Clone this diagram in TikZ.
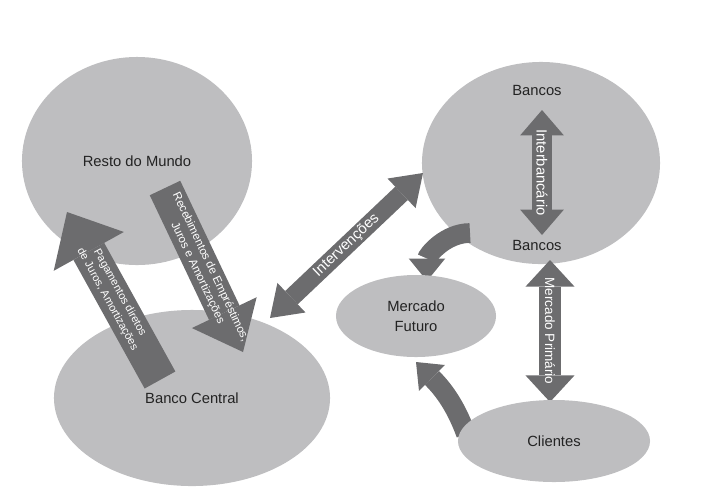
\documentclass[tikz,border=0pt]{standalone}
\usepackage{fontspec}
\setmainfont{Liberation Sans}
\usetikzlibrary{shapes.geometric,arrows.meta}
\definecolor{blobgray}{RGB}{190,190,192}
\definecolor{flowgray}{RGB}{108,108,110}
\definecolor{inkgray}{RGB}{35,35,35}
\tikzset{
    blob/.style={ellipse, fill=blobgray, inner sep=0pt},
    tag/.style={text=inkgray, font=\fontsize{10.5}{14}\selectfont, align=center},
    flow/.style={draw=flowgray, line width=#1},
    flowtext/.style={text=white, font=\fontsize{#1}{10}\selectfont, align=center, inner sep=0pt},
    tip/.style 2 args={-{Triangle[width=#1,length=#2,line width=0pt]}},
    tips/.style 2 args={{Triangle[width=#1,length=#2,line width=0pt]}-{Triangle[width=#1,length=#2,line width=0pt]}}
}
\begin{document}
\begin{tikzpicture}[x=0.025cm, y=0.025cm]
    \useasboundingbox (0,0) rectangle (709,-489);
    \node[blob, tag, minimum width=5.75cm, minimum height=5.2cm] (mundo) at (137,-161) {Resto do Mundo};
    \node[blob, tag, minimum width=6.9cm, minimum height=4.4cm] (central) at (192,-398) {Banco Central};
    \node[blob, minimum width=5.95cm, minimum height=5.05cm] (bancos) at (541,-163) {};
    \node[tag] (bancosA) at (537,-90) {Bancos};
    \node[tag] (bancosB) at (537,-245) {Bancos};
    % ends of the flows
    \coordinate (pagA) at (160,-380);
    \coordinate (pagB) at (67,-212);
    \coordinate (recA) at (165,-188);
    \coordinate (recB) at (243,-352);
    \coordinate (intA) at (270,-318);
    \coordinate (intB) at (423,-173);
    \coordinate (ibA) at (542,-110);
    \coordinate (ibB) at (542,-235);
    \coordinate (mpA) at (550,-260);
    \coordinate (mpB) at (550,-402);
    \coordinate (cvA) at (470,-233);
    \coordinate (cvB) at (427,-281);
    \coordinate (cwA) at (466,-434);
    \coordinate (cwB) at (416,-362);
    \draw[flow=25pt, tip={57pt}{32pt}] (pagA) -- node[flowtext=7.8, sloped] {Pagamentos diretos\\de Juros, Amortiza\c{c}\~oes} (pagB);
    \draw[flow=24pt, tip={51pt}{31pt}] (recA) -- node[flowtext=8.2, sloped] {Recebimentos de Empr\'estimos,\\Juros e Amortiza\c{c}\~oes} (recB);
    \draw[flow=13pt, tips={29pt}{21pt}] (intA) -- node[flowtext=10.5, sloped] {Interven\c{c}\~oes} (intB);
    \draw[flow=14pt, tips={31pt}{18pt}] (ibA) -- node[flowtext=10.5, rotate=-90] {Interbanc\'ario} (ibB);
    \draw[flow=16pt, tips={35pt}{19pt}] (mpA) -- node[flowtext=9.6, rotate=-90] {Mercado Prim\'ario} (mpB);
    \draw[flow=14pt, tip={26pt}{16pt}] (cvA) to[out=180, in=90] (cvB);
    \draw[flow=14pt, tip={26pt}{16pt}] (cwA) to[out=110, in=-45] (cwB);
    \node[blob, tag, minimum width=4cm, minimum height=2.05cm] (futuro) at (416,-316) {Mercado\\Futuro};
    \node[blob, tag, minimum width=4.8cm, minimum height=2.05cm] (clientes) at (554,-441) {Clientes};
\end{tikzpicture}
\end{document}
